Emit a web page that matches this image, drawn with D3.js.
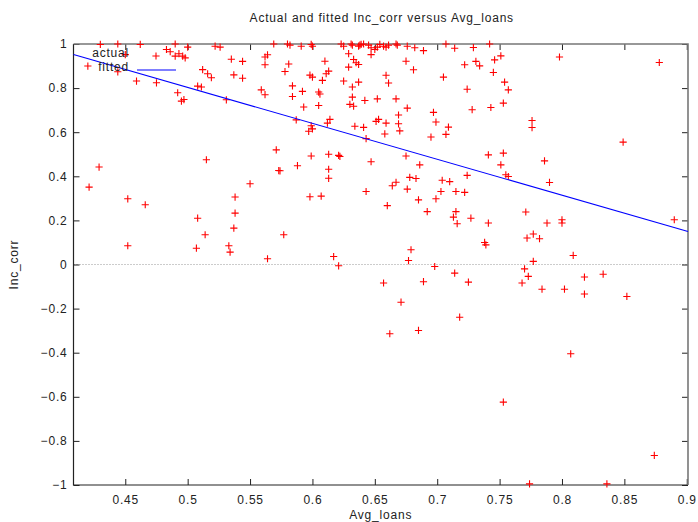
<!DOCTYPE html>
<html>
<head>
<meta charset="utf-8">
<script src="https://cdn.jsdelivr.net/npm/d3@7"></script>
<style>
  body { margin: 0; background: #fff; }
  svg { display: block; font-family: "Liberation Sans", Arial, sans-serif; }
  svg text { font-size: 12px; letter-spacing: 0.8px; }
</style>
</head>
<body>
<div id="chart"></div>
<script>
// Avg_loans (x) and Inc_corr (y)
const avgLoans = [
  0.430, 0.444, 0.462, 0.490, 0.500, 0.522, 0.526, 0.569, 0.580, 0.582,
  0.591, 0.599, 0.600, 0.623, 0.625, 0.631, 0.632, 0.637, 0.638, 0.639,
  0.641, 0.645, 0.647, 0.650, 0.652, 0.654, 0.657, 0.659, 0.661, 0.667,
  0.668, 0.676, 0.682, 0.689, 0.707, 0.714, 0.729, 0.742,
  0.629, 0.647, 0.420, 0.444, 0.450, 0.483, 0.486, 0.490, 0.493, 0.496,
  0.498, 0.459, 0.475, 0.492, 0.495, 0.497, 0.512, 0.516, 0.519, 0.508,
  0.511, 0.531, 0.535, 0.537, 0.544, 0.544, 0.559, 0.562, 0.562, 0.564,
  0.562, 0.578, 0.581, 0.584, 0.584, 0.592, 0.593, 0.587, 0.598, 0.600,
  0.605, 0.606, 0.605, 0.610, 0.613, 0.611, 0.608, 0.625, 0.632, 0.637,
  0.633, 0.635, 0.637, 0.629, 0.632, 0.642, 0.652, 0.667, 0.630, 0.633,
  0.675, 0.681, 0.705, 0.659, 0.661, 0.722, 0.731, 0.734, 0.746, 0.745,
  0.751, 0.798, 0.878, 0.754, 0.757, 0.724, 0.676, 0.697, 0.699, 0.728,
  0.743, 0.753, 0.669, 0.669, 0.670, 0.651, 0.653, 0.659, 0.634, 0.641,
  0.658, 0.643, 0.695, 0.707, 0.709, 0.776, 0.776, 0.849, 0.675, 0.686,
  0.647, 0.741, 0.753, 0.751, 0.786, 0.678, 0.683, 0.724, 0.755, 0.757,
  0.614, 0.612, 0.599, 0.597, 0.600, 0.571, 0.599, 0.613, 0.621, 0.622,
  0.588, 0.574, 0.613, 0.613, 0.515, 0.429, 0.704, 0.710, 0.664, 0.667,
  0.676, 0.643, 0.598, 0.607, 0.685, 0.699, 0.703, 0.660, 0.692, 0.715,
  0.722, 0.790, 0.715, 0.713, 0.716, 0.727, 0.741, 0.738, 0.739, 0.771,
  0.788, 0.800, 0.800, 0.772, 0.777, 0.782, 0.890, 0.679, 0.677, 0.698,
  0.714, 0.777, 0.770, 0.773, 0.768, 0.809, 0.657, 0.689, 0.725, 0.818,
  0.833, 0.784, 0.802, 0.818, 0.852, 0.671, 0.718, 0.662, 0.685, 0.807,
  0.753, 0.874, 0.774, 0.836, 0.421, 0.452, 0.466, 0.452, 0.508, 0.507,
  0.514, 0.538, 0.538, 0.537, 0.533, 0.534, 0.550, 0.564, 0.573, 0.577,
  0.617, 0.621
];
const incCorr = [
  0.998, 1.000, 0.998, 1.000, 0.986, 0.990, 0.986, 1.000, 1.000, 0.995,
  0.990, 0.998, 0.990, 1.000, 0.990, 1.000, 0.995, 0.990, 0.995, 0.998,
  1.000, 0.995, 0.983, 0.975, 0.986, 0.998, 0.990, 0.986, 0.995, 1.000,
  0.995, 0.990, 0.983, 0.970, 1.000, 0.981, 0.984, 1.000,
  0.956, 0.952, 0.900, 0.874, 0.952, 0.975, 0.965, 0.945, 0.956, 0.945,
  0.937, 0.832, 0.824, 0.779, 0.741, 0.748, 0.884, 0.865, 0.847, 0.809,
  0.805, 0.747, 0.931, 0.860, 0.921, 0.845, 0.792, 0.770, 0.941, 0.951,
  0.906, 0.875, 0.909, 0.810, 0.762, 0.785, 0.714, 0.656, 0.859, 0.850,
  0.782, 0.773, 0.721, 0.922, 0.877, 0.865, 0.835, 0.832, 0.805, 0.827,
  0.930, 0.915, 0.907, 0.895, 0.759, 0.744, 0.751, 0.751, 0.726, 0.718,
  0.922, 0.883, 0.850, 0.858, 0.823, 0.906, 0.921, 0.901, 0.928, 0.871,
  0.946, 0.941, 0.916, 0.827, 0.792, 0.795, 0.709, 0.690, 0.646, 0.702,
  0.712, 0.732, 0.678, 0.638, 0.606, 0.649, 0.658, 0.641, 0.627, 0.622,
  0.592, 0.571, 0.578, 0.590, 0.623, 0.653, 0.621, 0.555, 0.492, 0.452,
  0.466, 0.497, 0.505, 0.452, 0.470, 0.395, 0.390, 0.404, 0.407, 0.399,
  0.658, 0.641, 0.629, 0.604, 0.615, 0.520, 0.492, 0.500, 0.495, 0.490,
  0.448, 0.425, 0.432, 0.391, 0.475, 0.442, 0.382, 0.376, 0.357, 0.373,
  0.342, 0.331, 0.307, 0.310, 0.293, 0.298, 0.331, 0.267, 0.240, 0.331,
  0.327, 0.372, 0.240, 0.215, 0.185, 0.210, 0.188, 0.100, 0.089, 0.238,
  0.188, 0.203, 0.188, 0.120, 0.138, 0.117, 0.203, 0.067, 0.018, -0.009,
  -0.039, 0.014, -0.020, -0.054, -0.084, 0.041, -0.084, -0.078, -0.080, -0.057,
  -0.044, -0.112, -0.112, -0.134, -0.145, -0.171, -0.239, -0.314, -0.299, -0.405,
  -0.624, -0.866, -0.995, -0.995, 0.351, 0.298, 0.271, 0.085, 0.210, 0.074,
  0.135, 0.306, 0.233, 0.165, 0.085, 0.056, 0.366, 0.026, 0.426, 0.135,
  0.036, -0.006
];

// fitted line, end points
const fittedX = [0.4085, 0.901];
const fittedY = [0.952, 0.150];

const xTicks = [0.45, 0.5, 0.55, 0.6, 0.65, 0.7, 0.75, 0.8, 0.85, 0.9];
const yTicks = [-1, -0.8, -0.6, -0.4, -0.2, 0, 0.2, 0.4, 0.6, 0.8, 1];

const width = 698;
const height = 522;
const margin = { top: 44, right: 10, bottom: 37, left: 73.5 };

const svg = d3.select('#chart')
  .append('svg')
  .attr('width', width)
  .attr('height', height);

const xScale = d3.scaleLinear()
  .domain([fittedX[0], fittedX[1]])
  .range([margin.left, width - margin.right]);

const yScale = d3.scaleLinear()
  .domain([-1, 1])
  .range([height - margin.bottom, margin.top]);

const plotLeft = margin.left, plotRight = width - margin.right;
const plotTop = margin.top, plotBottom = height - margin.bottom;

// zero line
svg.append('line')
  .attr('x1', plotLeft).attr('x2', plotRight)
  .attr('y1', yScale(0)).attr('y2', yScale(0))
  .attr('stroke', '#999')
  .attr('stroke-dasharray', '1,2');

// axes with inward ticks
const tickLen = 6;
const fmt = d3.format('~g');

const xAxis = svg.append('g')
  .attr('transform', `translate(0, ${plotBottom})`)
  .call(d3.axisBottom(xScale).tickValues(xTicks).tickFormat(fmt).tickSizeInner(-tickLen).tickSizeOuter(0).tickPadding(tickLen + 4));
const xAxisTop = svg.append('g')
  .attr('transform', `translate(0, ${plotTop})`)
  .call(d3.axisTop(xScale).tickValues(xTicks).tickFormat('').tickSizeInner(-tickLen).tickSizeOuter(0));
const yAxis = svg.append('g')
  .attr('transform', `translate(${plotLeft}, 0)`)
  .call(d3.axisLeft(yScale).tickValues(yTicks).tickFormat(fmt).tickSizeInner(-tickLen).tickSizeOuter(0).tickPadding(6));
const yAxisRight = svg.append('g')
  .attr('transform', `translate(${plotRight}, 0)`)
  .call(d3.axisRight(yScale).tickValues(yTicks).tickFormat('').tickSizeInner(-tickLen).tickSizeOuter(0));

[xAxis, xAxisTop, yAxis, yAxisRight].forEach((g) => {
  g.select('.domain').remove();
  g.selectAll('line').attr('stroke', '#222');
  g.attr('font-size', null).attr('font-family', null);
  g.selectAll('text').attr('fill', '#222');
});

// frame
svg.append('path')
  .attr('d', `M${plotLeft},${plotTop}V${plotBottom}H${plotRight}`)
  .attr('fill', 'none').attr('stroke', '#222').attr('stroke-width', 1.2);
svg.append('path')
  .attr('d', `M${plotLeft},${plotTop}H${plotRight}V${plotBottom}`)
  .attr('fill', 'none').attr('stroke', '#777').attr('stroke-width', 1.6);

// data points as '+'
const pts = avgLoans.map((x, i) => ({ x, y: incCorr[i] }));
const arm = 3.6;
svg.append('g')
  .attr('class', 'dots')
  .selectAll('path')
  .data(pts)
  .join('path')
  .attr('d', (d) => {
    const cx = xScale(d.x), cy = yScale(d.y);
    return `M${cx - arm},${cy}H${cx + arm}M${cx},${cy - arm}V${cy + arm}`;
  })
  .attr('stroke', '#ff0000')
  .attr('stroke-width', 1.1)
  .attr('fill', 'none');

// fitted line
svg.append('line')
  .attr('x1', xScale(fittedX[0])).attr('y1', yScale(fittedY[0]))
  .attr('x2', xScale(fittedX[1])).attr('y2', yScale(fittedY[1]))
  .attr('stroke', '#0000ff')
  .attr('stroke-width', 1.1);

// legend
const legend = svg.append('g').attr('fill', '#222');
legend.append('text').attr('x', 129).attr('y', 56.5).attr('text-anchor', 'end').text('actual');
legend.append('text').attr('x', 129).attr('y', 70.5).attr('text-anchor', 'end').text('fitted');
legend.append('path')
  .attr('d', `M${156 - arm},56H${156 + arm}M156,${56 - arm}V${56 + arm}`)
  .attr('stroke', '#ff0000').attr('stroke-width', 1.1);
legend.append('line')
  .attr('x1', 137).attr('x2', 176).attr('y1', 70).attr('y2', 70)
  .attr('stroke', '#0000ff').attr('stroke-width', 1.1);

// titles
svg.append('text')
  .attr('x', (plotLeft + plotRight) / 2 + 1).attr('y', 22)
  .attr('text-anchor', 'middle')
  .attr('fill', '#222')
  .text('Actual and fitted Inc_corr versus Avg_loans');

svg.append('text')
  .attr('x', (plotLeft + plotRight) / 2).attr('y', 519)
  .attr('text-anchor', 'middle')
  .attr('fill', '#222')
  .text('Avg_loans');

svg.append('text')
  .attr('transform', `translate(18, ${yScale(0)}) rotate(-90)`)
  .attr('text-anchor', 'middle')
  .attr('fill', '#222')
  .text('Inc_corr');
</script>
</body>
</html>
